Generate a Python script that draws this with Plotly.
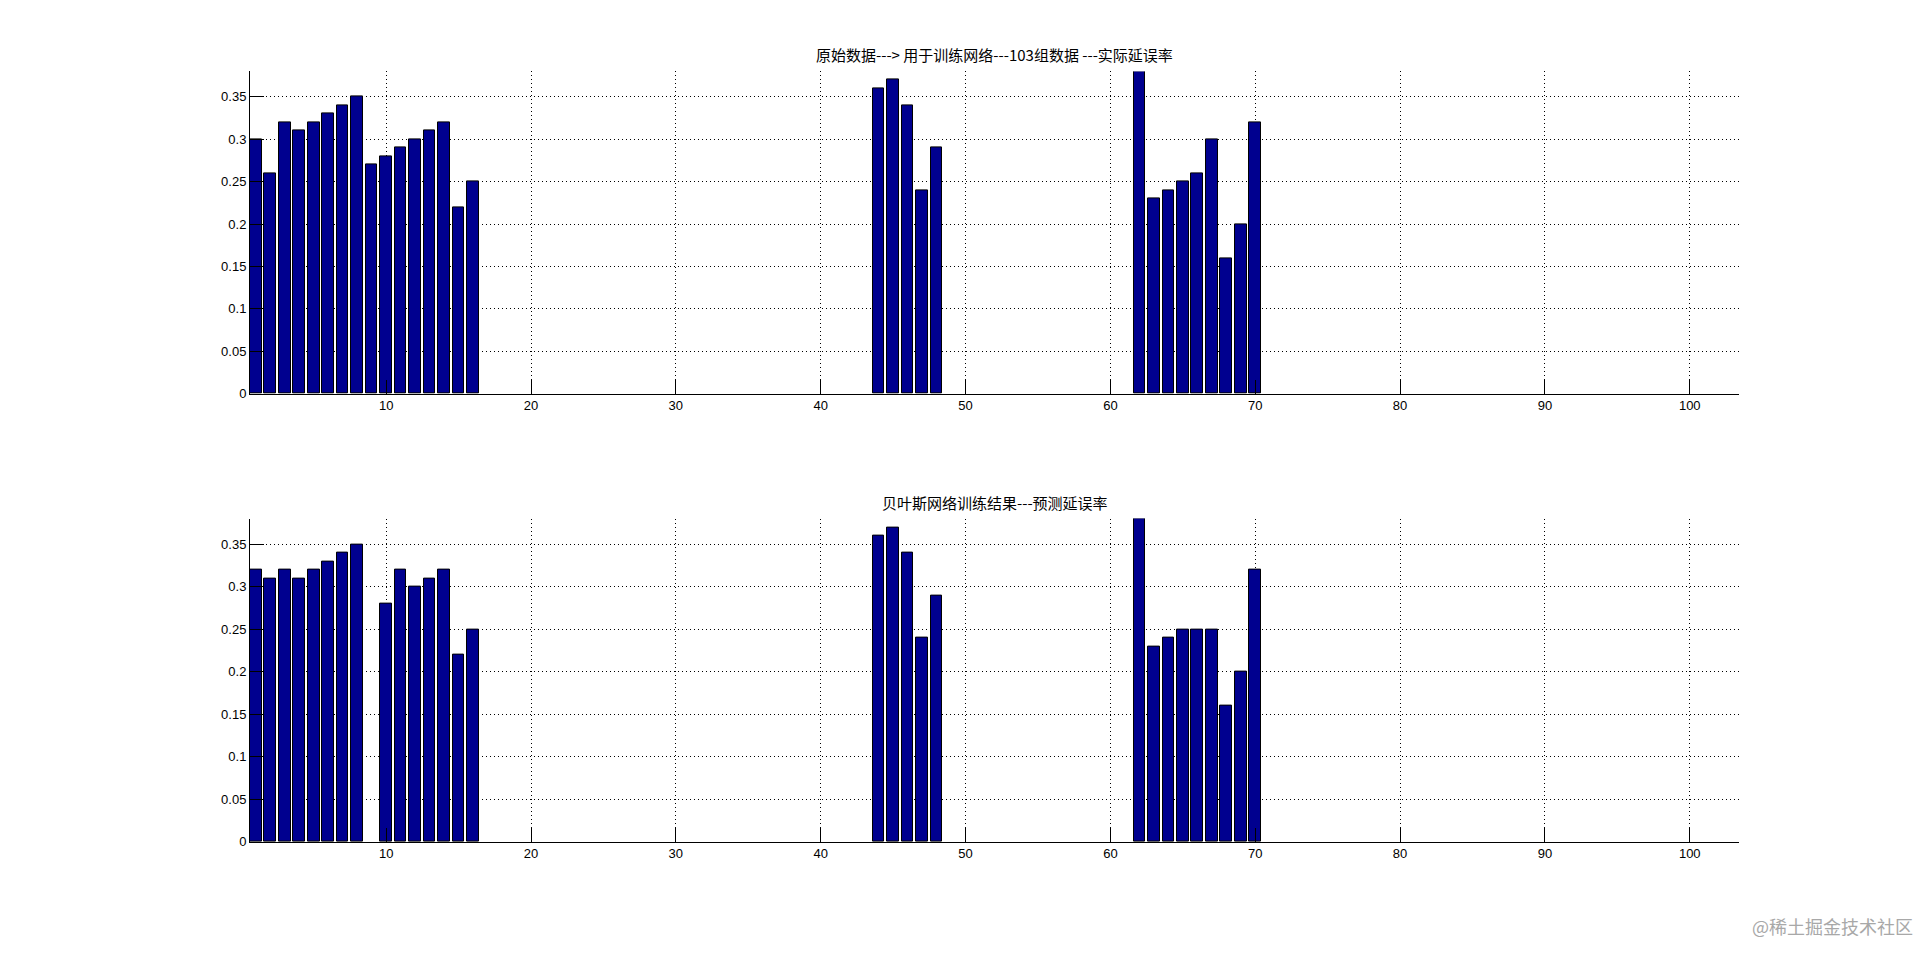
import plotly.graph_objects as go

# ---- data ----
n_groups = 103
x_index = list(range(1, n_groups + 1))

actual_nonzero = {
    1: 0.30, 2: 0.26, 3: 0.32, 4: 0.31, 5: 0.32, 6: 0.33, 7: 0.34, 8: 0.35,
    9: 0.27, 10: 0.28, 11: 0.29, 12: 0.30, 13: 0.31, 14: 0.32, 15: 0.22, 16: 0.25,
    44: 0.36, 45: 0.37, 46: 0.34, 47: 0.24, 48: 0.29,
    62: 0.38, 63: 0.23, 64: 0.24, 65: 0.25, 66: 0.26, 67: 0.30, 68: 0.16, 69: 0.20, 70: 0.32,
}
predicted_nonzero = {
    1: 0.32, 2: 0.31, 3: 0.32, 4: 0.31, 5: 0.32, 6: 0.33, 7: 0.34, 8: 0.35,
    9: 0.0, 10: 0.28, 11: 0.32, 12: 0.30, 13: 0.31, 14: 0.32, 15: 0.22, 16: 0.25,
    44: 0.36, 45: 0.37, 46: 0.34, 47: 0.24, 48: 0.29,
    62: 0.38, 63: 0.23, 64: 0.24, 65: 0.25, 66: 0.25, 67: 0.25, 68: 0.16, 69: 0.20, 70: 0.32,
}
actual_rate = [actual_nonzero.get(i, 0.0) for i in x_index]
predicted_rate = [predicted_nonzero.get(i, 0.0) for i in x_index]

x_tickvals = [10, 20, 30, 40, 50, 60, 70, 80, 90, 100]
y_tickvals = [0, 0.05, 0.1, 0.15, 0.2, 0.25, 0.3, 0.35]
y_ticktext = ["0", "0.05", "0.1", "0.15", "0.2", "0.25", "0.3", "0.35"]

title_top = "原始数据---> 用于训练网络---103组数据 ---实际延误率"
title_bottom = "贝叶斯网络训练结果---预测延误率"
watermark = "@稀土掘金技术社区"

W, H = 1923, 954
BAR_COLOR = "#00008F"


def visible(values):
    # zero-height bars are invisible (hidden behind the axis line)
    return [v if v > 0 else None for v in values]


fig = go.Figure()
fig.add_trace(go.Bar(x=x_index, y=visible(actual_rate), width=0.8, xaxis="x", yaxis="y",
                     marker=dict(color=BAR_COLOR, line=dict(color="black", width=1)),
                     showlegend=False))
fig.add_trace(go.Bar(x=x_index, y=visible(predicted_rate), width=0.8, xaxis="x2", yaxis="y2",
                     marker=dict(color=BAR_COLOR, line=dict(color="black", width=1)),
                     showlegend=False))

x_dom = [250 / W, 1739 / W]
top_dom = [1 - 397 / H, 1 - 72 / H]
bot_dom = [1 - 849 / H, 1 - 523 / H]

tickfont = dict(family="Liberation Sans, Arial, sans-serif", size=13, color="black")


def xaxis_cfg(anchor):
    return dict(domain=x_dom, anchor=anchor, range=[0.6, 103.4],
                tickmode="array", tickvals=x_tickvals, ticks="inside", ticklen=14,
                tickcolor="black", showline=True, linecolor="black", linewidth=1,
                showgrid=True, gridcolor="black", gridwidth=1, griddash="1px,3px",
                zeroline=False, tickfont=tickfont, fixedrange=True)


def yaxis_cfg(anchor, dom):
    return dict(domain=dom, anchor=anchor, range=[0, 0.38],
                tickmode="array", tickvals=y_tickvals, ticktext=y_ticktext,
                ticks="inside", ticklen=14, tickcolor="black",
                showline=True, linecolor="black", linewidth=1,
                showgrid=True, gridcolor="black", gridwidth=1, griddash="1px,3px",
                zeroline=False, tickfont=tickfont, fixedrange=True)


fig.update_layout(
    width=W, height=H,
    margin=dict(l=0, r=0, t=0, b=0),
    paper_bgcolor="white", plot_bgcolor="white",
    bargap=0,
    xaxis=xaxis_cfg("y"),
    yaxis=yaxis_cfg("x", top_dom),
    xaxis2=xaxis_cfg("y2"),
    yaxis2=yaxis_cfg("x2", bot_dom),
    annotations=[
        dict(text=title_top, xref="paper", yref="paper", x=(x_dom[0] + x_dom[1]) / 2,
             y=1 - 55 / H, xanchor="center", yanchor="middle", showarrow=False,
             font=dict(family="Noto Sans CJK SC", size=15, color="black")),
        dict(text=title_bottom, xref="paper", yref="paper", x=(x_dom[0] + x_dom[1]) / 2,
             y=1 - 507 / H, xanchor="center", yanchor="middle", showarrow=False,
             font=dict(family="Noto Sans CJK SC", size=15, color="black")),
        dict(text=watermark, xref="paper", yref="paper", x=1 - 8 / W,
             y=1 - 934 / H, xanchor="right", yanchor="middle", showarrow=False,
             font=dict(family="Noto Sans CJK SC", size=18, color="#a8a8a8")),
    ],
)

fig.write_html("out.html",
               config={"displayModeBar": False},
               post_script="document.body.style.margin='0';document.body.style.overflow='hidden';")
